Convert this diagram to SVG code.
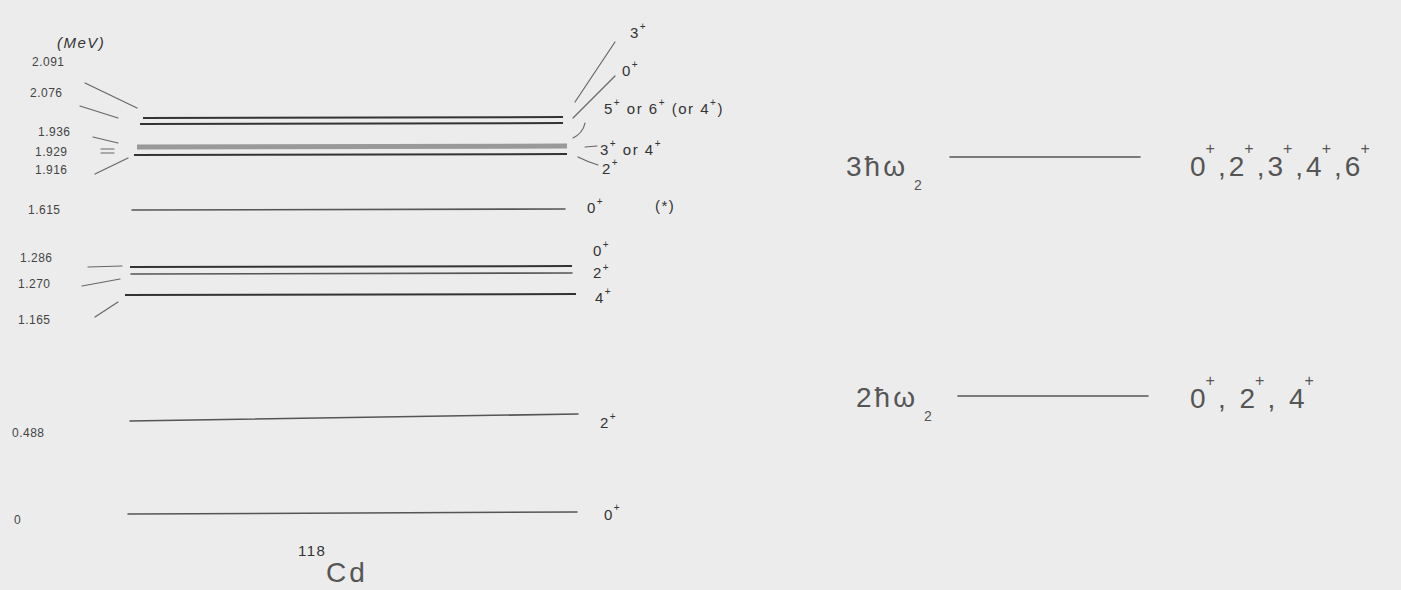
<svg xmlns="http://www.w3.org/2000/svg" width="1401" height="590" viewBox="0 0 1401 590">
<style>
.bg{fill:#ececec}
.lv{stroke:#555;stroke-width:1.6;fill:none;stroke-linecap:round}
.lvd{stroke:#333;stroke-width:2;fill:none}
.band{stroke:#999;stroke-width:5;fill:none}
.ld{stroke:#666;stroke-width:1.2;fill:none;stroke-linecap:round}
.v{font-family:"Liberation Sans",sans-serif;font-size:12px;fill:#444;letter-spacing:0.5px}
.j{font-family:"Liberation Sans",sans-serif;font-size:15px;fill:#333;letter-spacing:1.5px}
.big{font-family:"Liberation Sans",sans-serif;font-size:28px;fill:#555;letter-spacing:3px}
.sup{font-size:10px}
.supb{font-size:16px}
</style>
<rect class="bg" x="0" y="0" width="1401" height="590"/>
<text class="j" x="57" y="48" font-style="italic" font-size="17">(MeV)</text>

<g id="level-2091">
<line class="lvd" x1="143" y1="118" x2="563" y2="117"/>
<text class="v" x="32" y="66">2.091</text>
<text class="j" x="630" y="38">3<tspan class="sup" dy="-8">+</tspan></text>
</g>
<g id="level-2076">
<line class="lvd" x1="140" y1="124" x2="563" y2="123"/>
<text class="v" x="30" y="97">2.076</text>
<text class="j" x="622" y="76">0<tspan class="sup" dy="-8">+</tspan></text>
<text class="j" x="604" y="114">5<tspan class="sup" dy="-8">+</tspan><tspan dy="8"> or 6</tspan><tspan class="sup" dy="-8">+</tspan><tspan dy="8"> (or 4</tspan><tspan class="sup" dy="-8">+</tspan><tspan dy="8">)</tspan></text>
</g>
<g id="level-1936">
<line class="band" x1="137" y1="147" x2="567" y2="146"/>
<text class="v" x="38" y="136">1.936</text>
<text class="v" x="35" y="156">1.929</text>
<text class="j" x="600" y="155">3<tspan class="sup" dy="-8">+</tspan><tspan dy="8"> or 4</tspan><tspan class="sup" dy="-8">+</tspan></text>
</g>
<g id="level-1916">
<line class="lvd" x1="134" y1="155" x2="567" y2="154"/>
<text class="v" x="35" y="174">1.916</text>
<text class="j" x="602" y="174">2<tspan class="sup" dy="-8">+</tspan></text>
</g>
<g id="level-1615">
<line class="lv" x1="132" y1="210" x2="565" y2="209"/>
<text class="v" x="28" y="214">1.615</text>
<text class="j" x="587" y="213">0<tspan class="sup" dy="-8">+</tspan></text>
<text class="j" x="655" y="211">(*)</text>
</g>
<g id="level-1286">
<line class="lvd" x1="130" y1="267" x2="572" y2="266"/>
<text class="v" x="20" y="262">1.286</text>
<text class="j" x="593" y="256">0<tspan class="sup" dy="-8">+</tspan></text>
</g>
<g id="level-1270">
<line class="lv" x1="131" y1="274" x2="572" y2="273"/>
<text class="v" x="18" y="288">1.270</text>
<text class="j" x="593" y="278" font-size="13">2<tspan class="sup" dy="-7">+</tspan></text>
</g>
<g id="level-1165">
<line class="lvd" x1="125" y1="295" x2="576" y2="294"/>
<text class="v" x="18" y="324">1.165</text>
<text class="j" x="595" y="303">4<tspan class="sup" dy="-8">+</tspan></text>
</g>
<g id="level-0488">
<line class="lv" x1="130" y1="421" x2="578" y2="414"/>
<text class="v" x="12" y="437">0.488</text>
<text class="j" x="600" y="428">2<tspan class="sup" dy="-8">+</tspan></text>
</g>
<g id="level-0">
<line class="lv" x1="128" y1="514" x2="577" y2="512"/>
<text class="v" x="14" y="524">0</text>
<text class="j" x="604" y="520">0<tspan class="sup" dy="-9">+</tspan></text>
</g>
<g id="nucleus">
<text class="j" x="298" y="556" font-size="14" letter-spacing="0">118</text>
<text class="big" x="326" y="582" font-size="30" letter-spacing="1">Cd</text>
</g>

<g id="band-3">
<text class="big" x="846" y="176" letter-spacing="2">3ħω<tspan font-size="14" dx="6" dy="14">2</tspan></text>
<line class="lv" x1="950" y1="157" x2="1140" y2="157"/>
<text class="big" x="1190" y="176">0<tspan class="supb" dx="-3" dy="-22">+</tspan><tspan dy="22">,2</tspan><tspan class="supb" dx="-3" dy="-22">+</tspan><tspan dy="22">,3</tspan><tspan class="supb" dx="-3" dy="-22">+</tspan><tspan dy="22">,4</tspan><tspan class="supb" dx="-3" dy="-22">+</tspan><tspan dy="22">,6</tspan><tspan class="supb" dx="-3" dy="-22">+</tspan></text>
</g>
<g id="band-2">
<text class="big" x="856" y="407" letter-spacing="2">2ħω<tspan font-size="14" dx="6" dy="14">2</tspan></text>
<line class="lv" x1="958" y1="396" x2="1148" y2="396"/>
<text class="big" x="1190" y="408">0<tspan class="supb" dx="-3" dy="-22">+</tspan><tspan dy="22">, 2</tspan><tspan class="supb" dx="-3" dy="-22">+</tspan><tspan dy="22">, 4</tspan><tspan class="supb" dx="-3" dy="-22">+</tspan></text>
</g>

<g id="connectors">
<line class="ld" x1="85" y1="83" x2="137" y2="108"/>
<line class="ld" x1="80" y1="106" x2="118" y2="118"/>
<line class="ld" x1="93" y1="137" x2="118" y2="143"/>
<line class="ld" x1="101" y1="149" x2="114" y2="149"/>
<line class="ld" x1="101" y1="153" x2="114" y2="153"/>
<line class="ld" x1="95" y1="174" x2="128" y2="158"/>
<line class="ld" x1="88" y1="267" x2="122" y2="266"/>
<line class="ld" x1="82" y1="286" x2="120" y2="279"/>
<line class="ld" x1="95" y1="317" x2="118" y2="302"/>
<line class="ld" x1="615" y1="42" x2="575" y2="102"/>
<line class="ld" x1="615" y1="76" x2="573" y2="118"/>
<path class="ld" d="M585 123 Q583 133 573 138"/>
<line class="ld" x1="585" y1="147" x2="597" y2="146"/>
<path class="ld" d="M578 157 Q588 162 598 165"/>
</g>
</svg>
